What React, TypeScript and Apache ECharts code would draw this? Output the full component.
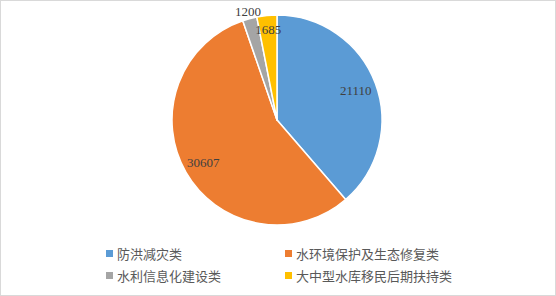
import React, { useEffect, useRef } from "react";
import * as echarts from "echarts";

const categories = ["防洪减灾类", "水环境保护及生态修复类", "水利信息化建设类", "大中型水库移民后期扶持类"];
const values = [21110, 30607, 1200, 1685];
const colors = ["#5B9BD5", "#ED7D31", "#A5A5A5", "#FFC000"];
const labelRadii = [81, 82, 109, 88];

export default function App() {
  const ref = useRef<HTMLDivElement>(null);
  useEffect(() => {
    document.body.style.margin = "0";
    if (!ref.current) return;
    const chart = echarts.init(ref.current, null, { renderer: "svg" });
    const data = categories.map((name, i) => ({
      name,
      value: values[i],
      itemStyle: { color: colors[i] },
    }));
    const labelSeries = categories.map((_, idx) => ({
      type: "pie",
      center: [276, 119],
      radius: [labelRadii[idx] - 40, labelRadii[idx] + 40],
      startAngle: 90,
      clockwise: true,
      silent: true,
      avoidLabelOverlap: false,
      itemStyle: { color: "rgba(0,0,0,0)" },
      labelLine: { show: false },
      data: categories.map((name, i) => ({
        name,
        value: values[i],
        itemStyle: { color: "rgba(0,0,0,0)" },
        label: {
          show: i === idx,
          position: "inside",
          formatter: "{c}",
          color: "#404040",
          fontFamily: "Liberation Serif",
          fontSize: 13,
        },
      })),
    }));
    const legendPos = [
      { left: 105, top: 246 },
      { left: 284, top: 246 },
      { left: 105, top: 268 },
      { left: 284, top: 268 },
    ];
    const legends = categories.map((name, i) => ({
      orient: "horizontal",
      left: legendPos[i].left,
      top: legendPos[i].top,
      padding: 0,
      itemWidth: 7,
      itemHeight: 7,
      icon: "rect",
      itemStyle: { borderWidth: 0 },
      textStyle: { color: "#595959", fontSize: 13, fontFamily: "Noto Sans CJK SC", padding: [0, 0, 0, -1] },
      data: [name],
    }));
    chart.setOption({
      animation: false,
      legend: legends,
      series: [
        {
          type: "pie",
          center: [276, 119],
          radius: [0, 105],
          startAngle: 90,
          clockwise: true,
          itemStyle: { borderColor: "#fff", borderWidth: 1.5 },
          label: { show: false },
          labelLine: { show: false },
          data,
        },
        ...labelSeries,
      ],
    });
    return () => chart.dispose();
  }, []);
  return (
    <div style={{ width: 556, height: 296, boxSizing: "border-box", border: "1px solid #D9D9D9", background: "#fff" }}>
      <div ref={ref} style={{ width: 554, height: 294 }} />
    </div>
  );
}
